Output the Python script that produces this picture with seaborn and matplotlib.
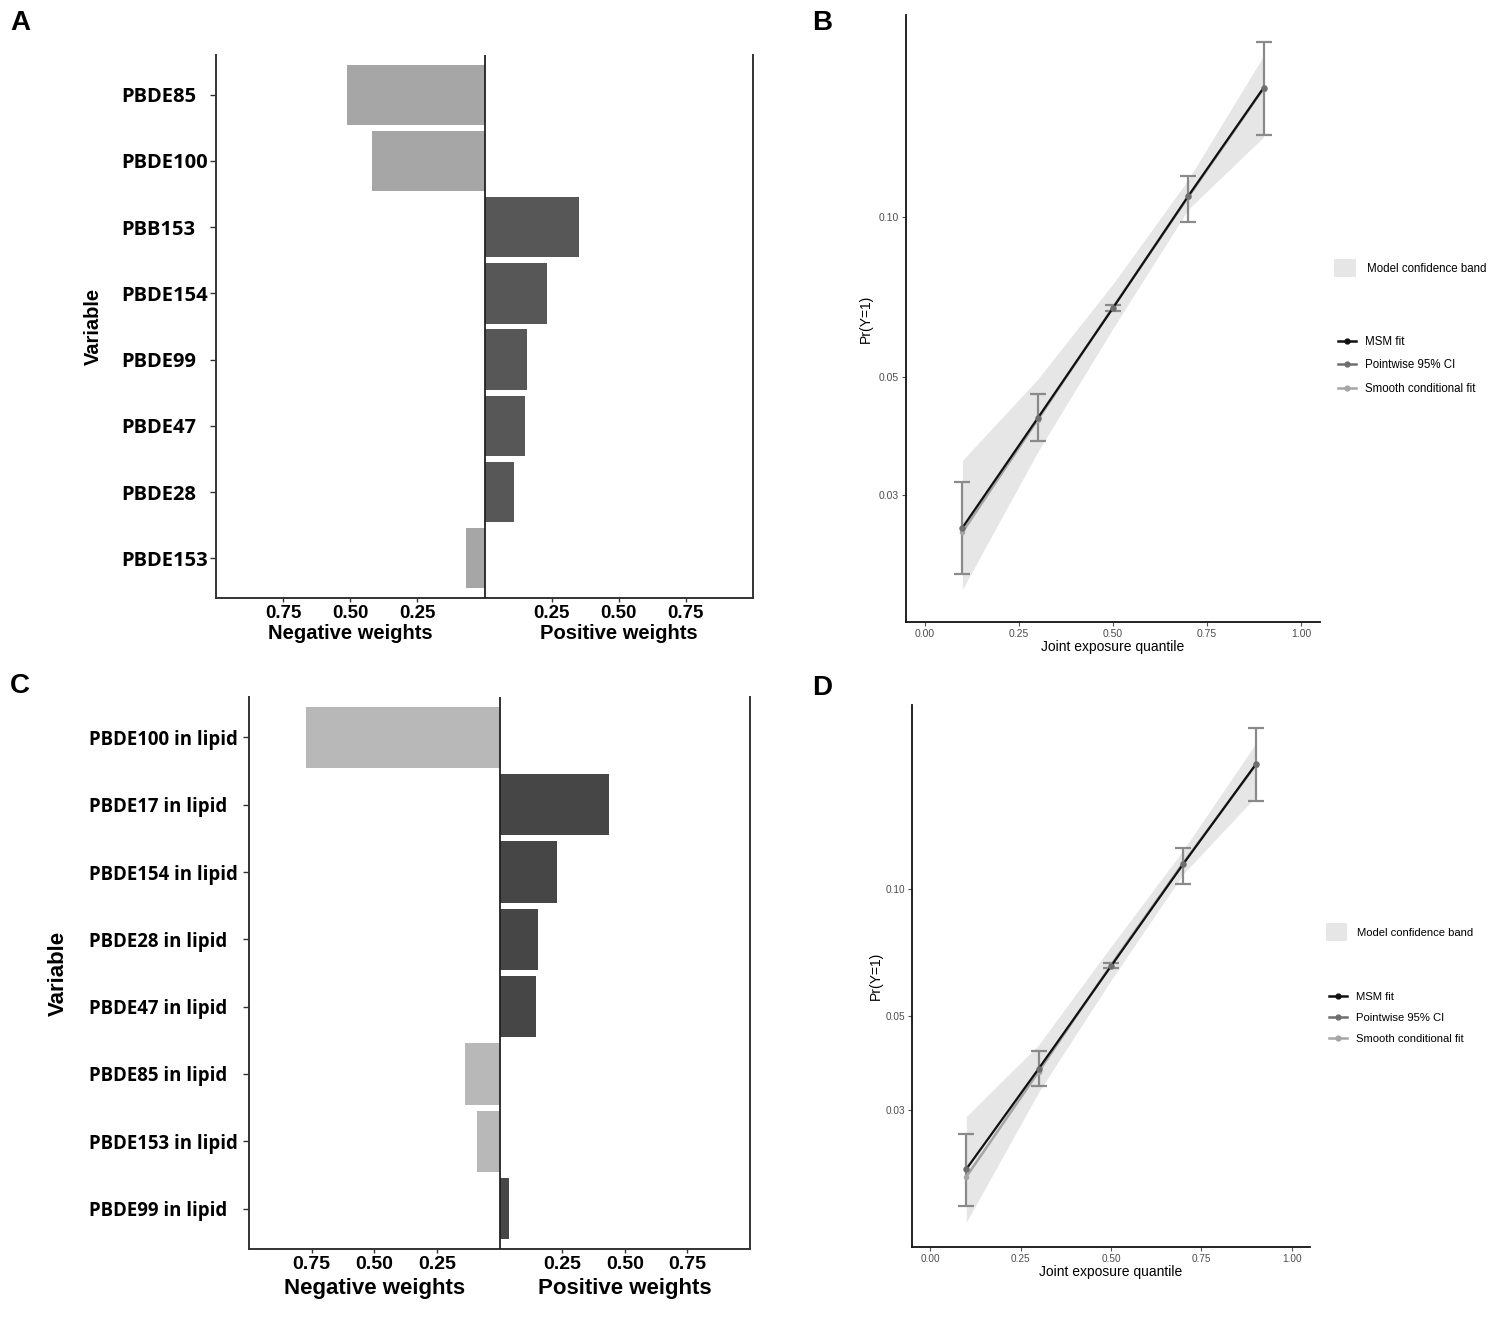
import numpy as np
import pandas as pd
import seaborn as sns
import matplotlib.pyplot as plt
from matplotlib.lines import Line2D
from matplotlib.patches import Patch
from matplotlib.ticker import FixedLocator, NullLocator

# panel A: qgcomp weights (serum)
vars_a = ['PBDE85', 'PBDE100', 'PBB153', 'PBDE154', 'PBDE99', 'PBDE47', 'PBDE28', 'PBDE153']
weights_a = [-0.512, -0.418, 0.352, 0.231, 0.157, 0.149, 0.111, -0.070]

# panel C: qgcomp weights (lipid adjusted)
vars_c = ['PBDE100 in lipid', 'PBDE17 in lipid', 'PBDE154 in lipid', 'PBDE28 in lipid',
          'PBDE47 in lipid', 'PBDE85 in lipid', 'PBDE153 in lipid', 'PBDE99 in lipid']
weights_c = [-0.774, 0.438, 0.229, 0.152, 0.144, -0.136, -0.090, 0.037]

weight_ticks = [-0.75, -0.5, -0.25, 0.25, 0.5, 0.75]

# panels B and D: joint exposure curves
quantiles = [0.1, 0.3, 0.5, 0.7, 0.9]

msm_b = [0.0260, 0.0418, 0.0674, 0.1095, 0.1750]
smooth_b = [0.0255, 0.0415, 0.0676, 0.1090, 0.1745]
ci_lo_b = [0.0213, 0.0379, 0.0664, 0.0979, 0.1427]
ci_hi_b = [0.0317, 0.0464, 0.0684, 0.1194, 0.2136]
band_lo_b = [0.0199, 0.0361, 0.0617, 0.1034, 0.1414]
band_hi_b = [0.0348, 0.0495, 0.0748, 0.1176, 0.2010]

msm_d = [0.0218, 0.0376, 0.0656, 0.1144, 0.1963]
smooth_d = [0.0209, 0.0370, 0.0660, 0.1150, 0.1955]
ci_lo_d = [0.01786, 0.0342, 0.0648, 0.1028, 0.1605]
ci_hi_d = [0.0264, 0.0414, 0.0666, 0.1247, 0.2394]
band_lo_d = [0.01633, 0.0331, 0.0608, 0.1084, 0.1646]
band_hi_d = [0.0290, 0.0428, 0.0730, 0.1233, 0.2198]

prob_ticks = [0.03, 0.05, 0.10]
quant_ticks = [0.0, 0.25, 0.5, 0.75, 1.0]

sans = ['Liberation Sans', 'DejaVu Sans']
labfont = ['Open Sans', 'DejaVu Sans']

fig = plt.figure(figsize=(15.05, 13.34), dpi=100)

W, H = 1505, 1334


def box(left, top, right, bottom):
    return [left / W, 1 - bottom / H, (right - left) / W, (bottom - top) / H]


def weight_panel(ax, names, weights, neg_col, pos_col, lab_size, lab_pad,
                 ylab_x, num_size, title_size, xlab_y):
    df = pd.DataFrame({'variable': names, 'weight': weights})
    df['sign'] = np.where(df['weight'] < 0, 'neg', 'pos')
    sns.barplot(data=df, x='weight', y='variable', hue='sign', order=names,
                palette={'neg': neg_col, 'pos': pos_col}, dodge=False,
                width=0.91, saturation=1, legend=False, orient='h', ax=ax)
    ax.axvline(0, color='#222222', lw=1.3, zorder=5)
    ax.set_xlim(-1, 1)
    ax.set_ylim(len(names) - 0.4, -0.6)
    ax.set_xticks(weight_ticks)
    ax.set_xticklabels([f'{abs(t):.2f}' for t in weight_ticks],
                       fontsize=num_size, fontweight='bold', family=sans)
    ax.set_yticks(range(len(names)))
    ax.set_yticklabels(names, ha='left', fontsize=lab_size, fontweight='bold', family=labfont)
    ax.tick_params(axis='y', length=4, width=1, color='#333333', pad=lab_pad)
    ax.tick_params(axis='x', length=3, width=1, color='#333333', pad=2)
    ax.set_xlabel('')
    ax.set_ylabel('Variable', fontsize=title_size, fontweight='bold', family=sans)
    ax.yaxis.set_label_coords(ylab_x, 0.5)
    ax.spines['top'].set_visible(False)
    for s in ['left', 'right', 'bottom']:
        ax.spines[s].set_color('#333333')
        ax.spines[s].set_linewidth(1.4)
    ax.text(0.25, xlab_y, 'Negative weights', transform=ax.transAxes, ha='center',
            va='center', fontsize=title_size, fontweight='bold', family=sans)
    ax.text(0.75, xlab_y, 'Positive weights', transform=ax.transAxes, ha='center',
            va='center', fontsize=title_size, fontweight='bold', family=sans)


def curve_panel(ax, msm, smooth, lo, hi, band_lo, band_hi, ylim, tick_size,
                lab_size, leg_size, ylab_x, leg_x, leg_y1, leg_y2):
    ax.set_yscale('log')
    ax.fill_between(quantiles, band_lo, band_hi, color='#e6e6e6', lw=0, zorder=1)
    yerr = [np.array(msm) - np.array(lo), np.array(hi) - np.array(msm)]
    ax.errorbar(quantiles, msm, yerr=yerr, fmt='none', ecolor='#8a8a8a',
                elinewidth=1.6, capsize=5.5, capthick=1.6, zorder=2)
    sns.lineplot(x=quantiles, y=smooth, color='#a6a6a6', lw=1.8, marker='o',
                 markersize=4, markeredgewidth=0, ax=ax, zorder=3)
    sns.lineplot(x=quantiles, y=msm, color='#111111', lw=1.6, ax=ax, zorder=4)
    sns.scatterplot(x=quantiles, y=msm, color='#6e6e6e', s=22, linewidth=0, ax=ax, zorder=5)
    ax.set_xlim(-0.05, 1.05)
    ax.set_ylim(*ylim)
    ax.yaxis.set_major_locator(FixedLocator(prob_ticks))
    ax.yaxis.set_minor_locator(NullLocator())
    ax.set_yticklabels([f'{t:.2f}' for t in prob_ticks], fontsize=tick_size,
                       color='#4d4d4d', family=sans)
    ax.set_xticks(quant_ticks)
    ax.set_xticklabels([f'{t:.2f}' for t in quant_ticks], fontsize=tick_size,
                       color='#4d4d4d', family=sans)
    ax.tick_params(length=3, width=0.8, color='#555555', pad=2)
    ax.set_xlabel('Joint exposure quantile', fontsize=lab_size, family=sans, labelpad=1)
    ax.set_ylabel('Pr(Y=1)', fontsize=lab_size, family=sans)
    ax.yaxis.set_label_coords(ylab_x, 0.5)
    for s in ['top', 'right']:
        ax.spines[s].set_visible(False)
    for s in ['left', 'bottom']:
        ax.spines[s].set_color('#111111')
        ax.spines[s].set_linewidth(1.3)

    band_leg = ax.legend(handles=[Patch(facecolor='#e6e6e6', edgecolor='none')],
                         labels=['Model confidence band'], loc='center left',
                         bbox_to_anchor=(leg_x, leg_y1), frameon=False,
                         handlelength=1.9, handleheight=2.0,
                         handletextpad=0.9, borderpad=0, borderaxespad=0,
                         prop={'family': sans, 'size': leg_size})
    ax.add_artist(band_leg)
    line_handles = [
        Line2D([], [], color='#111111', lw=1.8, marker='o', markersize=3.5),
        Line2D([], [], color='#6e6e6e', lw=1.8, marker='o', markersize=3.5),
        Line2D([], [], color='#a6a6a6', lw=1.8, marker='o', markersize=3.5),
    ]
    ax.legend(handles=line_handles,
              labels=['MSM fit', 'Pointwise 95% CI', 'Smooth conditional fit'],
              loc='center left', bbox_to_anchor=(leg_x + 0.008, leg_y2), frameon=False,
              handlelength=1.6, handletextpad=0.8, labelspacing=1.0,
              borderpad=0, borderaxespad=0, prop={'family': sans, 'size': leg_size})


ax_a = fig.add_axes(box(216, 55, 753, 598))
weight_panel(ax_a, vars_a, weights_a, '#a6a6a6', '#575757', 14.5, 64, -0.21, 13.5, 14.5, -0.066)

ax_c = fig.add_axes(box(249, 697, 750, 1249))
weight_panel(ax_c, vars_c, weights_c, '#b8b8b8', '#464646', 13.4, 111, -0.36, 14, 16, -0.071)

ax_b = fig.add_axes(box(906, 15, 1320, 622))
curve_panel(ax_b, msm_b, smooth_b, ci_lo_b, ci_hi_b, band_lo_b, band_hi_b,
            (0.01727, 0.240), 7.5, 10, 8.3, -0.08, 1.035, 0.583, 0.423)

ax_d = fig.add_axes(box(912, 705, 1310, 1247))
curve_panel(ax_d, msm_d, smooth_d, ci_lo_d, ci_hi_d, band_lo_d, band_hi_d,
            (0.01428, 0.271), 7.2, 10, 8.1, -0.073, 1.04, 0.581, 0.4225)

for letter, (x, y) in {'A': (20, 23), 'B': (822, 23), 'C': (20, 686), 'D': (822, 688)}.items():
    fig.text(x / W, 1 - y / H, letter, ha='center', va='center', fontsize=20,
             fontweight='bold', family=sans)

fig.savefig('out.png', dpi=100, facecolor='white')
